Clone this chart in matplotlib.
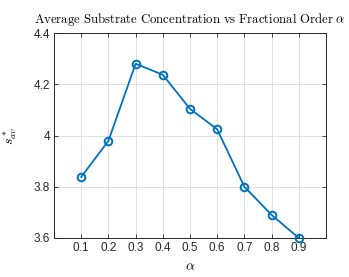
import matplotlib
matplotlib.use("Agg")
import matplotlib.pyplot as plt

alpha = [0.1, 0.2, 0.3, 0.4, 0.5, 0.6, 0.7, 0.8, 0.9]
s_av = [3.838, 3.979, 4.28, 4.237, 4.104, 4.024, 3.80, 3.69, 3.60]
xticks = [0.1, 0.2, 0.3, 0.4, 0.5, 0.6, 0.7, 0.8, 0.9]
yticks = [3.6, 3.8, 4.0, 4.2, 4.4]
ytick_labels = ["3.6", "3.8", "4", "4.2", "4.4"]

plt.rcParams['mathtext.fontset'] = 'cm'
plt.rcParams['font.family'] = ['Liberation Sans', 'DejaVu Sans']

fig = plt.figure(figsize=(3.49, 2.77), dpi=100)
ax = fig.add_axes([54/349, 1-238/277, (326-54)/349, (238-33)/277])

ax.plot(alpha, s_av, color='#0072BD', lw=1.3, marker='o', ms=5.5,
        mfc='none', mec='#0072BD', mew=1.4, clip_on=False, zorder=3)
ax.set_xlim(0, 1)
ax.set_ylim(3.6, 4.4)
ax.set_xticks(xticks)
ax.set_xticklabels([f"{t:.1f}" for t in xticks])
ax.set_yticks(yticks)
ax.set_yticklabels(ytick_labels)
ax.grid(True, color='#dcdcdc', lw=0.6)
ax.set_axisbelow(True)
ax.tick_params(direction='in', length=3, width=0.6, labelsize=8.5, colors='#262626',
               top=True, right=True, pad=3)
for s in ax.spines.values():
    s.set_linewidth(0.7)
    s.set_color('#262626')

fig.text(190/349, 1-20/277,
         r'$\mathrm{Average\ Substrate\ Concentration\ vs\ Fractional\ Order}\ \alpha$',
         fontsize=9.2, ha='center', va='center')
ax.set_xlabel(r'$\alpha$', fontsize=10)
ax.set_ylabel(r'$s^*_{av}$', fontsize=10, labelpad=10)

fig.savefig('out.png', dpi=100)
